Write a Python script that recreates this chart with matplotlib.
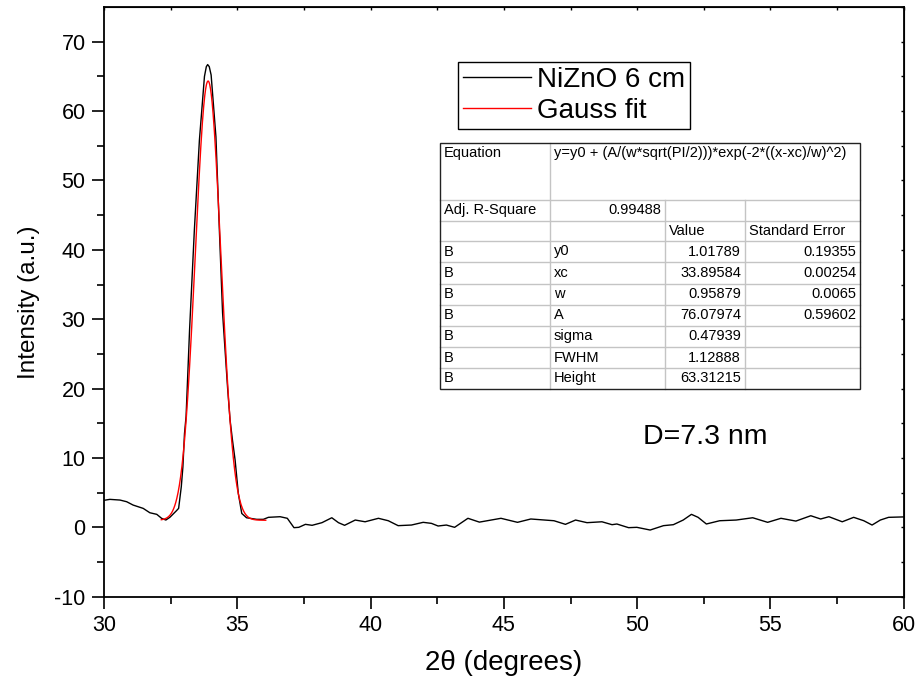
import numpy as np
import matplotlib
matplotlib.use("Agg")
import matplotlib.pyplot as plt
from matplotlib.lines import Line2D
from matplotlib.patches import Rectangle

plt.rcParams['font.family'] = ['Liberation Sans', 'DejaVu Sans']
plt.rcParams['axes.unicode_minus'] = False

# ---- measured XRD data (2theta, intensity) ----
two_theta = [30.00, 30.21, 30.59, 30.84, 31.08, 31.46, 31.71, 31.97, 32.15, 32.31, 32.46,
             32.71, 32.79, 32.89, 32.95, 33.01, 33.07, 33.20, 33.38, 33.57, 33.76, 33.83, 33.88,
             33.94, 34.01, 34.19, 34.32, 34.44, 34.63, 34.72, 34.81, 34.91, 35.03, 35.16, 35.34,
             35.72, 35.97, 36.16, 36.60, 36.87, 37.12, 37.30, 37.55, 37.80, 38.17, 38.54,
             38.79, 39.02, 39.42, 39.79, 40.29, 40.66, 41.03, 41.53, 41.97, 42.28, 42.53,
             42.84, 43.15, 43.65, 44.08, 44.89, 45.51, 46.01, 46.88, 47.31, 47.69, 48.12,
             48.68, 49.06, 49.24, 49.68, 49.99, 50.49, 50.99, 51.36, 51.73, 52.04, 52.29,
             52.60, 53.10, 53.72, 54.34, 54.90, 55.40, 55.96, 56.52, 56.89, 57.20, 57.70,
             58.13, 58.51, 58.82, 59.13, 59.44, 60.00]
intensity = [3.90, 4.03, 3.93, 3.69, 3.21, 2.73, 2.10, 1.87, 1.30, 1.05, 1.44,
             2.40, 2.73, 5.85, 8.70, 13.5, 16.0, 28.4, 42.8, 55.8, 65.0, 66.4, 66.7,
             66.4, 65.2, 56.3, 42.8, 30.9, 20.0, 15.5, 12.6, 9.7, 4.9, 2.0, 1.38,
             1.15, 1.15, 1.44, 1.53, 1.30, -0.05, 0.00, 0.43, 0.29, 0.67, 1.38,
             0.67, 0.29, 1.05, 0.80, 1.30, 0.95, 0.24, 0.33, 0.72, 0.57, 0.19,
             0.33, 0.00, 1.30, 0.75, 1.30, 0.72, 1.20, 0.95, 0.43, 1.05, 0.67,
             0.80, 0.38, 0.48, -0.05, 0.00, -0.39, 0.24, 0.38, 1.05, 1.87, 1.44,
             0.48, 0.95, 1.05, 1.38, 0.72, 1.30, 0.90, 1.67, 1.20, 1.53, 0.80,
             1.44, 0.95, 0.33, 1.05, 1.44, 1.50]

# ---- Gauss fit parameters (from the fit table) ----
y0 = 1.01789
xc = 33.89584
w = 0.95879
A = 76.07974
fit_range = [32.14, 36.06]

table_rows = [
    ["Adj. R-Square", "0.99488", "", ""],
    ["", "", "Value", "Standard Error"],
    ["B", "y0", "1.01789", "0.19355"],
    ["B", "xc", "33.89584", "0.00254"],
    ["B", "w", "0.95879", "0.0065"],
    ["B", "A", "76.07974", "0.59602"],
    ["B", "sigma", "0.47939", ""],
    ["B", "FWHM", "1.12888", ""],
    ["B", "Height", "63.31215", ""],
]
equation = "y=y0 + (A/(w*sqrt(PI/2)))*exp(-2*((x-xc)/w)^2)"
series_labels = ["NiZnO 6 cm", "Gauss fit"]
annotation = "D=7.3 nm"

W, H = 922, 689
fig = plt.figure(figsize=(W / 100, H / 100), dpi=100)
ax = fig.add_axes([104.3 / W, 1 - 596.7 / H, (903.5 - 104.3) / W, (596.7 - 7) / H])

ax.plot(two_theta, intensity, color='black', lw=1.0, zorder=3)
xf = np.linspace(fit_range[0], fit_range[1], 400)
yf = y0 + (A / (w * np.sqrt(np.pi / 2))) * np.exp(-2 * ((xf - xc) / w) ** 2)
ax.plot(xf, yf, color='#ff0000', lw=1.0, zorder=4)

ax.set_xlim(30, 60)
ax.set_ylim(-10, 75)
ax.set_xticks(np.arange(30, 61, 5))
ax.set_yticks(np.arange(-10, 71, 10))
ax.set_xticks(np.arange(32.5, 60, 5), minor=True)
ax.set_yticks(np.arange(-5, 75, 10), minor=True)
for s in ax.spines.values():
    s.set_linewidth(1.3)
ax.tick_params(which='major', direction='out', length=8.5, width=1.2, labelsize=15.5, pad=5,
               top=False, right=False)
ax.tick_params(which='minor', direction='out', length=4.8, width=1.2, top=False, right=False)

ax2 = ax.secondary_xaxis('top')
ax2.set_xticks(np.arange(30, 61, 2.5))
ax2.tick_params(direction='in', length=2.5, width=1.0, labeltop=False)
ax2.set_xticklabels([])
ax3 = ax.secondary_yaxis('right')
ax3.set_yticks(np.arange(-10, 76, 5))
ax3.tick_params(direction='in', length=2.5, width=1.0)
ax3.set_yticklabels([])

ax.set_xlabel("2θ (degrees)", fontsize=20, labelpad=10)
ax.set_ylabel("Intensity (a.u.)", fontsize=17.5, labelpad=10)

# legend
handles = [Line2D([0], [0], color='black', lw=1.0), Line2D([0], [0], color='#ff0000', lw=1.0)]
leg = fig.legend(handles, series_labels, loc='upper left',
                 bbox_to_anchor=(458 / W, 1 - 62 / H), fontsize=20, frameon=True,
                 fancybox=False, edgecolor='black', handlelength=2.45, handletextpad=0.2,
                 borderpad=0.18, labelspacing=0.18, borderaxespad=0, framealpha=1)
leg.get_frame().set_linewidth(1.0)

# annotation
fig.text(643 / W, 1 - 437 / H, annotation, fontsize=20.5, va='center', ha='left')

# ---- fit table ----
def fx(px):
    return px / W

def fy(py):
    return 1 - py / H

cols = [440, 550, 665, 745, 860]
rows = [143, 200, 220.5, 241, 262, 283.5, 305, 325.5, 347, 368, 388.5]
grey = '#c4c4c4'
lines_kw = dict(transform=fig.transFigure, color=grey, lw=1.0, zorder=5)
fig.patches.append(Rectangle((fx(cols[0]), fy(rows[-1])), fx(cols[-1]) - fx(cols[0]),
                             fy(rows[0]) - fy(rows[-1]), transform=fig.transFigure,
                             facecolor='white', edgecolor='none', zorder=4))
for r in rows[1:-1]:
    fig.add_artist(Line2D([fx(cols[0]), fx(cols[-1])], [fy(r), fy(r)], **lines_kw))
fig.add_artist(Line2D([fx(cols[1]), fx(cols[1])], [fy(rows[0]), fy(rows[-1])], **lines_kw))
for c in cols[2:4]:
    fig.add_artist(Line2D([fx(c), fx(c)], [fy(rows[1]), fy(rows[-1])], **lines_kw))
fig.add_artist(Rectangle((fx(cols[0]), fy(rows[-1])), fx(cols[-1]) - fx(cols[0]),
                         fy(rows[0]) - fy(rows[-1]), transform=fig.transFigure,
                         facecolor='none', edgecolor='#222222', lw=1.0, zorder=6))

tfs = 10.5
tkw = dict(fontsize=tfs, zorder=8)
fig.text(fx(cols[0] + 4), fy(rows[0] + 3), "Equation", va='top', ha='left', **tkw)
fig.text(fx(cols[1] + 4), fy(rows[0] + 3), equation, va='top', ha='left', **tkw)
for i, row in enumerate(table_rows):
    yc = fy((rows[i + 1] + rows[i + 2]) / 2)
    for j, txt in enumerate(row):
        if not txt:
            continue
        if (i >= 2 and j >= 2) or (i == 0 and j == 1):
            fig.text(fx(cols[j + 1] - 4), yc, txt, va='center', ha='right', **tkw)
        else:
            fig.text(fx(cols[j] + 4), yc, txt, va='center', ha='left', **tkw)

fig.savefig("out.png", dpi=100)
